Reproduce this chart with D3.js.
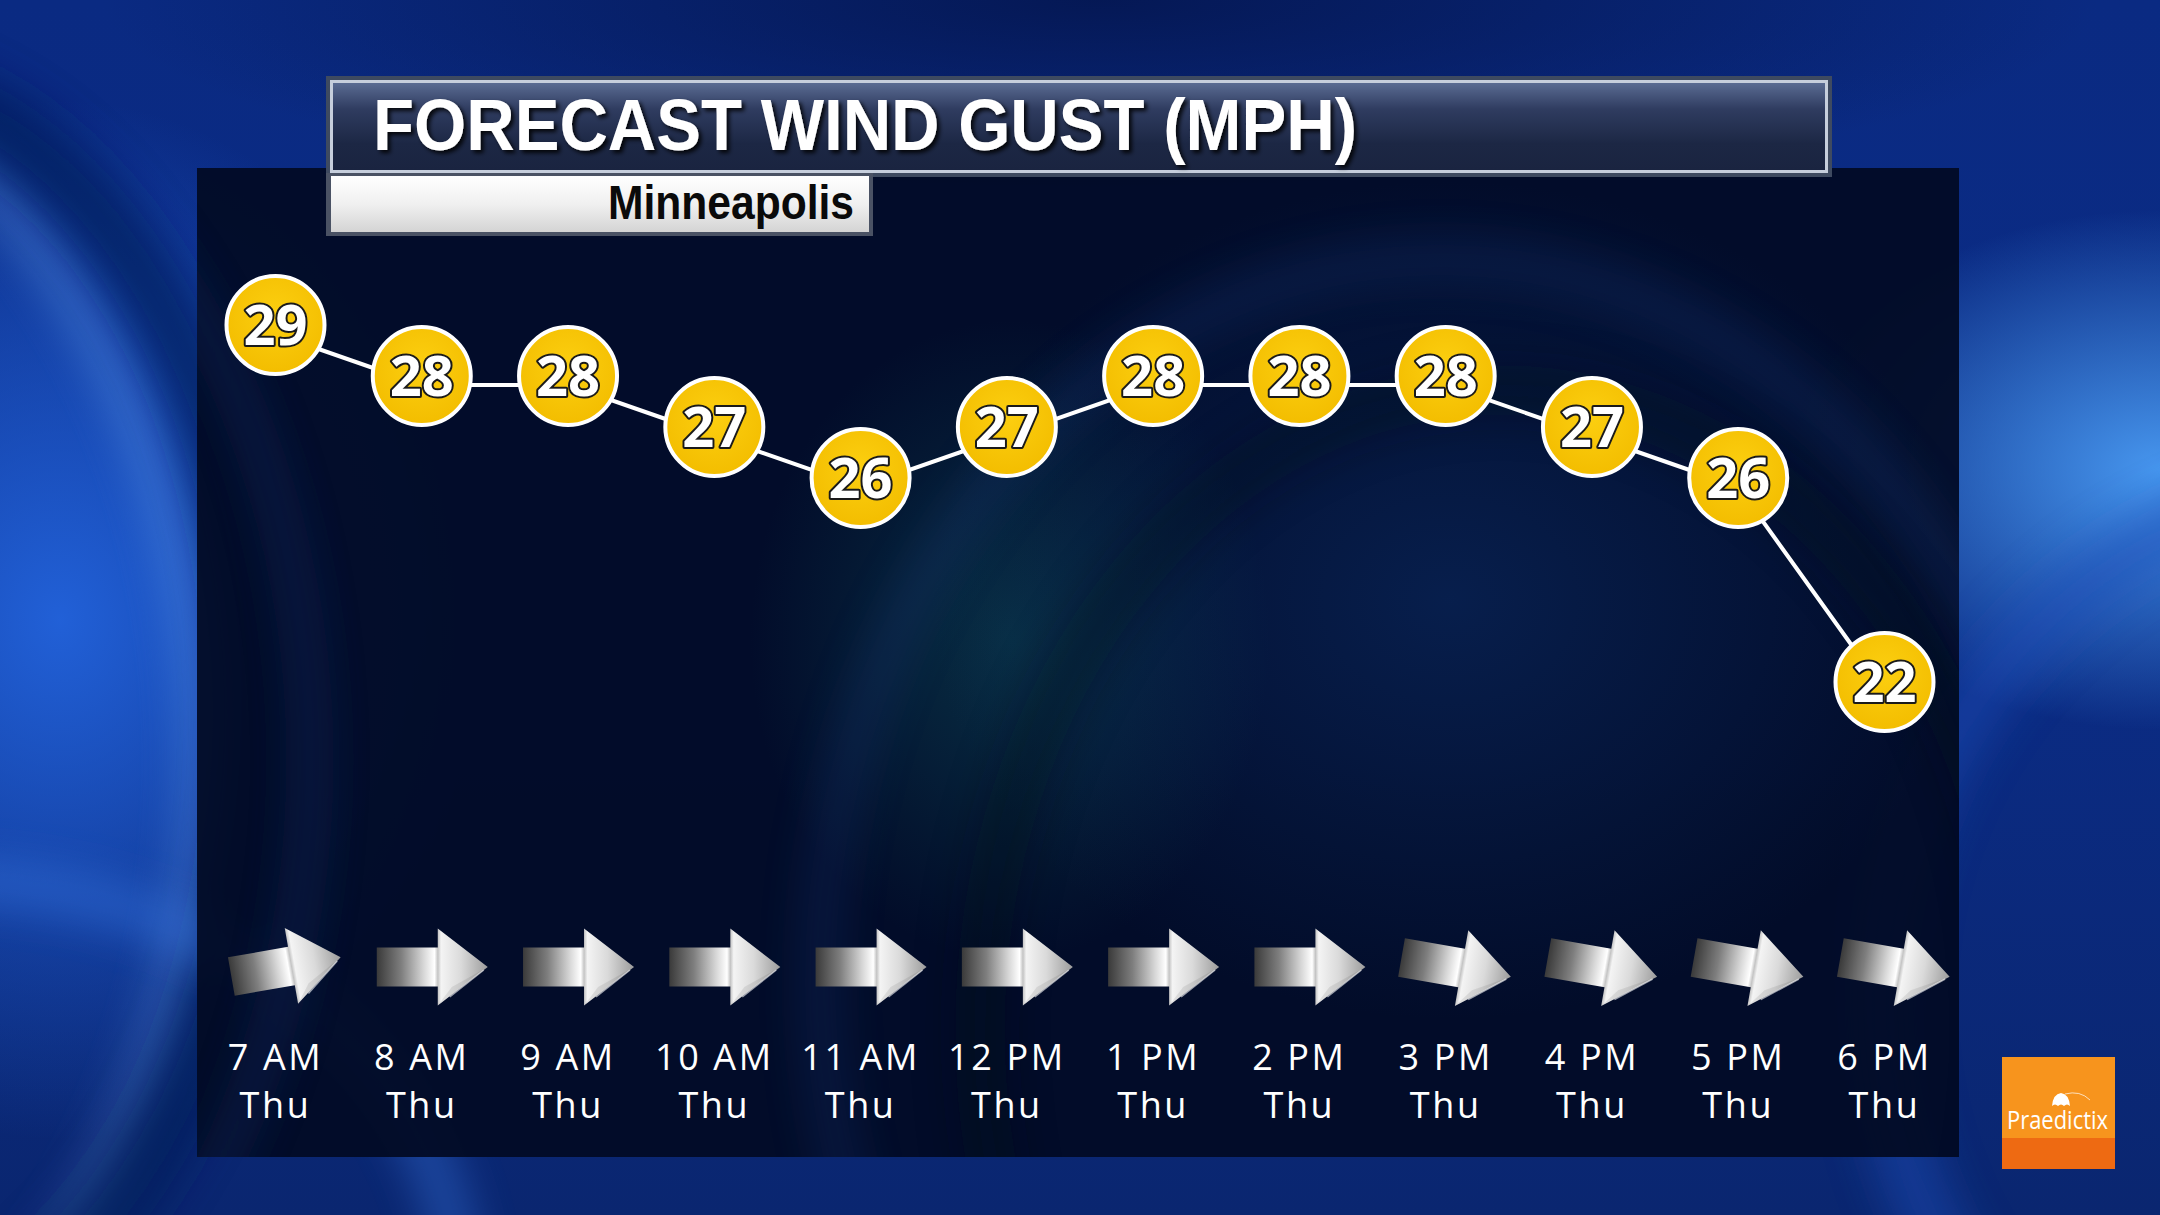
<!DOCTYPE html>
<html>
<head>
<meta charset="utf-8">
<script src="https://cdn.jsdelivr.net/npm/d3@7/dist/d3.min.js"></script>
<style>
html,body{margin:0;padding:0;background:#0a2878;overflow:hidden;}
svg{display:block;}
</style>
</head>
<body>
<svg id="chart" width="2160" height="1215"></svg>
<script>
// ---- data ----
const chartTitle = "FORECAST WIND GUST (MPH)";
const placeName = "Minneapolis";
const hours = ["7 AM","8 AM","9 AM","10 AM","11 AM","12 PM","1 PM","2 PM","3 PM","4 PM","5 PM","6 PM"];
const days = ["Thu","Thu","Thu","Thu","Thu","Thu","Thu","Thu","Thu","Thu","Thu","Thu"];
const gusts = [29,28,28,27,26,27,28,28,28,27,26,22];
// arrow rotation from due east (degrees, clockwise positive)
const windTilt = [-10,0,0,0,0,0,0,0,10,10,10,10];
const brand = "Praedictix";

const W = 2160, H = 1215;
const svg = d3.select("#chart");
const defs = svg.append("defs");

// ---- background ----
const bgGrad = defs.append("linearGradient").attr("id","bgGrad").attr("x1",0).attr("y1",0).attr("x2",0).attr("y2",1);
bgGrad.append("stop").attr("offset",0).attr("stop-color","#0a2a82");
bgGrad.append("stop").attr("offset",0.5).attr("stop-color","#0b2c86");
bgGrad.append("stop").attr("offset",1).attr("stop-color","#0a2670");

function radial(id, color, op){
  const g = defs.append("radialGradient").attr("id",id);
  g.append("stop").attr("offset",0).attr("stop-color",color).attr("stop-opacity",op);
  g.append("stop").attr("offset",1).attr("stop-color",color).attr("stop-opacity",0);
}
radial("glowL","#2466e0",0.9);
radial("glowR","#4a9cf4",0.95);
radial("glowTop","#041650",0.9);
radial("glowTeal","#0d4a58",0.55);
radial("glowBlue","#0f3a80",0.4);

const blur = defs.append("filter").attr("id","blur30").attr("x","-50%").attr("y","-50%").attr("width","200%").attr("height","200%");
blur.append("feGaussianBlur").attr("stdDeviation",22);

const bg = svg.append("g");
bg.append("rect").attr("width",W).attr("height",H).attr("fill","url(#bgGrad)");
bg.append("ellipse").attr("cx",60).attr("cy",620).attr("rx",420).attr("ry",520).attr("fill","url(#glowL)");
bg.append("ellipse").attr("cx",2160).attr("cy",470).attr("rx",380).attr("ry",260).attr("fill","url(#glowR)");
bg.append("ellipse").attr("cx",1100).attr("cy",0).attr("rx",1000).attr("ry",200).attr("fill","url(#glowTop)");
bg.append("ellipse").attr("cx",-420).attr("cy",760).attr("rx",620).attr("ry",760)
  .attr("fill","none").attr("stroke","#6aa8f6").attr("stroke-width",30).attr("opacity",0.45).attr("filter","url(#blur30)");
bg.append("ellipse").attr("cx",-160).attr("cy",720).attr("rx",420).attr("ry",640)
  .attr("fill","none").attr("stroke","#061a58").attr("stroke-width",70).attr("opacity",0.7).attr("filter","url(#blur30)");
bg.append("ellipse").attr("cx",-60).attr("cy",1300).attr("rx",520).attr("ry",420)
  .attr("fill","none").attr("stroke","#3a7ce8").attr("stroke-width",40).attr("opacity",0.45).attr("filter","url(#blur30)");
bg.append("ellipse").attr("cx",2400).attr("cy",1000).attr("rx",520).attr("ry",520)
  .attr("fill","none").attr("stroke","#1a4eb8").attr("stroke-width",60).attr("opacity",0.5).attr("filter","url(#blur30)");

// ---- panel ----
const panel = {x:197, y:168, w:1762, h:989};
const clip = defs.append("clipPath").attr("id","panelClip");
clip.append("rect").attr("x",panel.x).attr("y",panel.y).attr("width",panel.w).attr("height",panel.h);
const pg = svg.append("g").attr("clip-path","url(#panelClip)");
pg.append("rect").attr("x",panel.x).attr("y",panel.y).attr("width",panel.w).attr("height",panel.h)
  .attr("fill","#020b24").attr("opacity",0.94);
pg.append("ellipse").attr("cx",1010).attr("cy",640).attr("rx",260).attr("ry",320).attr("fill","url(#glowTeal)");
pg.append("ellipse").attr("cx",1450).attr("cy",600).attr("rx",520).attr("ry",420).attr("fill","url(#glowBlue)");
pg.append("ellipse").attr("cx",1440).attr("cy",980).attr("rx",620).attr("ry",720)
  .attr("fill","none").attr("stroke","#1b3f86").attr("stroke-width",36).attr("opacity",0.28).attr("filter","url(#blur30)");
pg.append("ellipse").attr("cx",1500).attr("cy",1030).attr("rx",520).attr("ry",640)
  .attr("fill","none").attr("stroke","#010818").attr("stroke-width",50).attr("opacity",0.35).attr("filter","url(#blur30)");
pg.append("ellipse").attr("cx",-250).attr("cy",760).attr("rx",560).attr("ry",740)
  .attr("fill","none").attr("stroke","#12306e").attr("stroke-width",24).attr("opacity",0.5).attr("filter","url(#blur30)");

// ---- scales ----
const x = d3.scalePoint().domain(hours).range([275.5, 1884.5]);
const y = d3.scaleLinear().domain([22, 29]).range([682, 325]);

// ---- line ----
const lineGen = d3.line().x((d,i)=>x(hours[i])).y(d=>y(d)+9);
svg.append("path").datum(gusts).attr("d",lineGen)
  .attr("fill","none").attr("stroke","#ffffff").attr("stroke-width",4);

// ---- bubbles ----
const bubbleGrad = defs.append("radialGradient").attr("id","bubble").attr("cx","50%").attr("cy","40%").attr("r","60%");
bubbleGrad.append("stop").attr("offset",0).attr("stop-color","#fccf10");
bubbleGrad.append("stop").attr("offset",1).attr("stop-color","#f3bd00");

const bubbles = svg.append("g").selectAll("g").data(gusts).join("g")
  .attr("transform",(d,i)=>`translate(${x(hours[i])},${y(d)})`);
bubbles.append("circle").attr("r",49).attr("fill","url(#bubble)").attr("stroke","#ffffff").attr("stroke-width",4);
bubbles.append("text").text(d=>d)
  .attr("text-anchor","middle").attr("y",20)
  .attr("font-family","'Open Sans', sans-serif").attr("font-weight",700).attr("font-size",56)
  .attr("fill","#ffffff").attr("stroke","#1a1a1a").attr("stroke-width",4).attr("paint-order","stroke")
  .attr("stroke-linejoin","round");

// ---- wind arrows ----
const arrowGrad = defs.append("linearGradient").attr("id","arrowGrad").attr("x1",0).attr("y1",0).attr("x2",1).attr("y2",0);
[[0,"#3a3a3a"],[0.22,"#7e7e7e"],[0.42,"#d6d6d6"],[0.52,"#ffffff"],[0.55,"#c4c4c4"],[0.58,"#f4f4f4"],[0.76,"#dadada"],[1,"#9c9c9c"]]
  .forEach(s=>arrowGrad.append("stop").attr("offset",s[0]).attr("stop-color",s[1]));
const arrowY = 967;
const arrows = svg.append("g").selectAll("g").data(windTilt).join("g")
  .attr("transform",(d,i)=>`translate(${x(hours[i])+10},${arrowY}) rotate(${d})`);
arrows.append("path")
  .attr("d","M -55,-19.5 L 6,-19.5 L 6,-38.5 L 56,0 L 6,38.5 L 6,19.5 L -55,19.5 Z")
  .attr("fill","url(#arrowGrad)");
arrows.append("path").attr("d","M 6,38.5 L 56,0 L 20,20 Z").attr("fill","#000").attr("opacity",0.08);
arrows.append("path").attr("d","M 18,30 L 52,3").attr("stroke","#ffffff").attr("stroke-width",1.5).attr("opacity",0.6);

// ---- time labels ----
const lblFont = {family:"'Open Sans', sans-serif", size:36, spacing:2.6};
const lbl = svg.append("g").selectAll("g").data(hours).join("g")
  .attr("transform",d=>`translate(${x(d)},0)`);
lbl.append("text").text(d=>d).attr("y",1070).attr("text-anchor","middle")
  .attr("font-family",lblFont.family).attr("font-size",lblFont.size).attr("letter-spacing",lblFont.spacing)
  .attr("fill","#ffffff");
lbl.append("text").text((d,i)=>days[i]).attr("y",1118).attr("text-anchor","middle")
  .attr("font-family",lblFont.family).attr("font-size",lblFont.size).attr("letter-spacing",lblFont.spacing)
  .attr("fill","#ffffff");

// ---- title box ----
const tGrad = defs.append("linearGradient").attr("id","titleGrad").attr("x1",0).attr("y1",0).attr("x2",0).attr("y2",1);
[[0,"#5a6b92"],[0.3,"#2f3c60"],[0.7,"#1c2744"],[1,"#1a2440"]].forEach(s=>tGrad.append("stop").attr("offset",s[0]).attr("stop-color",s[1]));
const sGrad = defs.append("linearGradient").attr("id","subGrad").attr("x1",0).attr("y1",0).attr("x2",0).attr("y2",1);
[[0,"#ffffff"],[0.5,"#f0f0f0"],[1,"#d4d4d4"]].forEach(s=>sGrad.append("stop").attr("offset",s[0]).attr("stop-color",s[1]));
const shadow = defs.append("filter").attr("id","txtShadow").attr("x","-10%").attr("y","-30%").attr("width","120%").attr("height","160%");
shadow.append("feDropShadow").attr("dx",3).attr("dy",3).attr("stdDeviation",2).attr("flood-color","#000").attr("flood-opacity",0.85);

const tb = svg.append("g");
tb.append("rect").attr("x",326).attr("y",76).attr("width",1506).attr("height",101).attr("fill","#3e4a60");
tb.append("rect").attr("x",330).attr("y",80).attr("width",1498).attr("height",93).attr("fill","#c6cedc");
tb.append("rect").attr("x",333).attr("y",83).attr("width",1492).attr("height",87).attr("fill","url(#titleGrad)");
tb.append("text").text(chartTitle).attr("x",373).attr("y",150)
  .attr("font-family","'Liberation Sans', Arial, sans-serif").attr("font-weight",700).attr("font-size",73)
  .attr("textLength",984).attr("lengthAdjust","spacingAndGlyphs")
  .attr("fill","#ffffff").attr("filter","url(#txtShadow)");

tb.append("rect").attr("x",326).attr("y",173).attr("width",547).attr("height",63).attr("fill","#4a5264");
tb.append("rect").attr("x",331).attr("y",176).attr("width",538).attr("height",56).attr("fill","url(#subGrad)");
tb.append("text").text(placeName).attr("x",854).attr("y",219).attr("text-anchor","end")
  .attr("font-family","'Liberation Sans', Arial, sans-serif").attr("font-weight",700).attr("font-size",48)
  .attr("textLength",246).attr("lengthAdjust","spacingAndGlyphs").attr("fill","#0a0a0a");

// ---- logo ----
const lg = svg.append("g");
lg.append("rect").attr("x",2002).attr("y",1057).attr("width",113).attr("height",112).attr("fill","#f7941d");
lg.append("rect").attr("x",2002).attr("y",1138).attr("width",113).attr("height",31).attr("fill","#ee6a12");
lg.append("path").attr("d","M 2052,1106 Q 2053,1094 2061,1093 Q 2069,1094 2070,1106 Q 2067,1103 2064,1106 Q 2061,1103 2058,1106 Q 2055,1103 2052,1106 Z")
  .attr("fill","#ffffff");
lg.append("path").attr("d","M 2065,1094 Q 2080,1090 2090,1100").attr("fill","none").attr("stroke","#ffffff").attr("stroke-width",1).attr("opacity",0.7);
lg.append("text").text(brand).attr("x",2007).attr("y",1129)
  .attr("font-family","'Open Sans', sans-serif").attr("font-size",25)
  .attr("textLength",101).attr("lengthAdjust","spacingAndGlyphs").attr("fill","#ffffff");
</script>
</body>
</html>
